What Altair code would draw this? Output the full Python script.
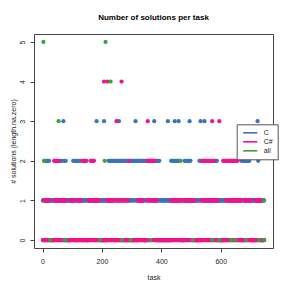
import altair as alt
import pandas as pd

# Number of C solutions per task (one digit per task, tasks 1..746)
C_COUNTS = [
    "1011021012" "0112010210" "1201101011" "0101101011" "0010110101",
    "1011010110" "0210120113" "0102101201" "1010110101" "0110101101",
    "1021012011" "2011201021" "0120112010" "1101011010" "1010110201",
    "1010101101" "0101101010" "1101010110" "1301101011" "0101101010",
    "1011013011" "0101101011" "0210121021" "0210120121" "0210210120",
    "1201213021" "0210210210" "2102102102" "1021021011" "0121021021",
    "0210210210" "2130210210" "2102102102" "1021021021" "0210210210",
    "2102102102" "1021021021" "0210130210" "2102102102" "1021011010",
    "1101011010" "1010110101" "1301101011" "0120121021" "0210321021",
    "0210210321" "2011010110" "1011010210" "1201021012" "0102310210",
    "1011010110" "1010110101" "1011010212" "0321021011" "0210310110",
    "1101011012" "0101101011" "0110101210" "2102102101" "1010110101",
    "0110101101" "0101101011" "0101101011" "0110101101" "0120110101",
    "1010110101" "1011010121" "0210210210" "2102102102" "1021021011",
    "0101101011" "0101101010" "1013021011" "0101101011" "010110",
]

# Number of C# solutions per task
CSHARP_COUNTS = [
    "0000010110" "1011010110" "1100000000" "0000000021" "0210210210",
    "2102120110" "1011010110" "1011010100" "0000000000" "0000101101",
    "0110110000" "0000001011" "0110101110" "0002002002" "0020200000",
    "0000010110" "1201210210" "2120110101" "1011010111" "0000000000",
    "0000004000" "0000010410" "1101011010" "1101101011" "0000000031",
    "0100100010" "0100140010" "0010001001" "0010010002" "0000000000",
    "0000000000" "0000000000" "1011010110" "1101011010" "0000000000",
    "0023120121" "0210210212" "1021022101" "1011000000" "0000000000",
    "0000000000" "0000000000" "0000000000" "0010110101" "1011010110",
    "1101011010" "1101011000" "0000000101" "1011010110" "1101011010",
    "1101010110" "1000000000" "0000000000" "0001010210" "2102102102",
    "1021021021" "0210210210" "3102102101" "1011010110" "0000300000",
    "0000000200" "2002002102" "1021021021" "0210210210" "2101210210",
    "2102120110" "1011011100" "0000000010" "1101011010" "1101011010",
    "1000000000" "0000000101" "1011010110" "1011100000" "000000",
]

# "all" series: the points visible in green
ALL_TASKS = [3, 5, 212, 229, 54, 209, 465, 746, 26, 75, 78, 193, 267, 296,
             363, 505, 572, 595, 634, 649, 685, 729, 745]
ALL_COUNTS = [5, 2, 5, 4, 3, 2, 2, 1, 0, 0, 0, 0, 0, 0,
              0, 0, 0, 0, 0, 0, 0, 0, 0]

SERIES = ["C", "C#", "all"]
COLORS = ["#3a74be", "#f0148c", "#3ba33b"]
X_TICKS = [0, 200, 400, 600]
Y_TICKS = [0, 1, 2, 3, 4, 5]

c_vals = [int(ch) for ch in "".join(C_COUNTS)]
cs_vals = [int(ch) for ch in "".join(CSHARP_COUNTS)]
n_tasks = len(c_vals)

rows = []
for i, v in enumerate(c_vals):
    rows.append({"task": i + 1, "count": v, "lang": "C"})
for i, v in enumerate(cs_vals):
    rows.append({"task": i + 1, "count": v, "lang": "C#"})
for t, v in zip(ALL_TASKS, ALL_COUNTS):
    rows.append({"task": t, "count": v, "lang": "all"})
df = pd.DataFrame(rows)

xpad = (n_tasks - 1) * 0.04
ypad = 5 * 0.04
FONT = "Liberation Sans"

chart = alt.Chart(df).mark_circle(size=18, opacity=1).encode(
    x=alt.X(
        "task:Q",
        scale=alt.Scale(domain=[1 - xpad, n_tasks + xpad], nice=False, zero=False),
        axis=alt.Axis(values=X_TICKS, title="task", grid=False, domain=False,
                      tickSize=4, tickColor="#444", labelFontSize=7, labelFont=FONT,
                      labelColor="#222", labelPadding=5, titleFontSize=7,
                      titleFont=FONT, titleFontWeight="normal", titleColor="#222",
                      titlePadding=9),
    ),
    y=alt.Y(
        "count:Q",
        scale=alt.Scale(domain=[-ypad, 5 + ypad], nice=False, zero=False),
        axis=alt.Axis(values=Y_TICKS, title="# solutions (length.na.zero)", grid=False,
                      domain=False, tickSize=4, tickColor="#444", labelFontSize=7,
                      labelFont=FONT, labelColor="#222", labelAngle=270,
                      labelAlign="center", labelBaseline="middle", labelPadding=7.5,
                      titleFontSize=7, titleFont=FONT, titleFontWeight="normal",
                      titleColor="#222", titleAngle=270, titleX=-21, titleY=107,
                      titleAlign="center", titleBaseline="middle"),
    ),
    color=alt.Color(
        "lang:N",
        scale=alt.Scale(domain=SERIES, range=COLORS),
        legend=alt.Legend(orient="none", legendX=202.7, legendY=90.3, title=None,
                          symbolType="M-3,-0.35H3V0.35H-3Z", symbolSize=22,
                          symbolStrokeWidth=0, symbolOffset=5, labelOffset=10,
                          padding=5, rowPadding=1, strokeColor="#555",
                          fillColor="white", labelFontSize=7, labelFont=FONT,
                          labelColor="#222"),
    ),
    order=alt.Order("lang:N"),
).properties(
    width=239,
    height=214,
    title=alt.TitleParams("Number of solutions per task", fontSize=8,
                          fontWeight="bold", font=FONT, anchor="middle",
                          frame="group", offset=4, baseline="bottom", color="black"),
    autosize="none",
    padding={"left": 26, "top": 26, "right": 10, "bottom": 35},
).configure_view(stroke="#444", strokeWidth=1)

chart.save("out.html", embed_options={"renderer": "svg", "actions": False})
